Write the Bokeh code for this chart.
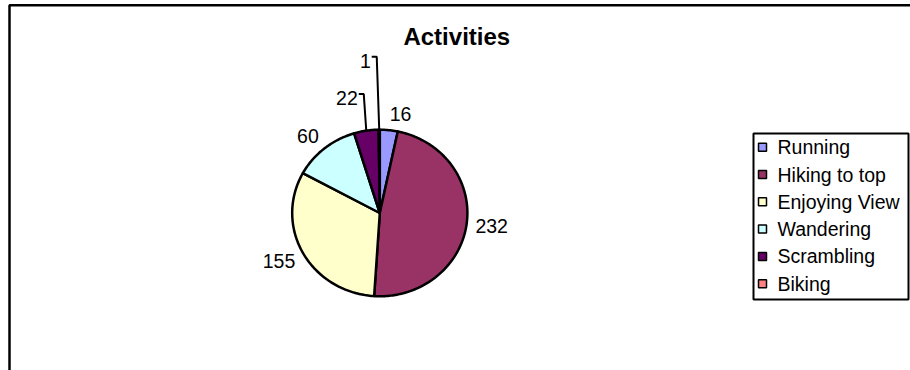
import numpy as np
from bokeh.plotting import figure
from bokeh.models import Range1d, BoxAnnotation, ColumnDataSource
from bokeh.core.properties import value
from bokeh.embed import file_html
from bokeh.resources import INLINE

# ---- data -------------------------------------------------------------
title = "Activities"
categories = ["Running", "Hiking to top", "Enjoying View", "Wandering", "Scrambling", "Biking"]
counts = [16, 232, 155, 60, 22, 1]
colors = ["#9999FF", "#993366", "#FFFFCC", "#CCFFFF", "#660066", "#FF8080"]

# ---- layout (pixel space: x to the right, y downwards) ----------------
W, H = 910, 370
FONT = "Liberation Sans"
CX, CY, RX, RY = 379.3, 212.5, 87.6, 83.3      # pie centre and radii
LABEL_FS = 19.5
LABEL_GAP = 8.9
# labels lifted away from thin slices, joined back by a leader line
leader_rise = {"Scrambling": 36.6, "Biking": 73.0}

p = figure(width=W, height=H, x_range=Range1d(0, W), y_range=Range1d(H, 0),
           output_backend="svg", toolbar_location=None, min_border=0,
           x_axis_location=None, y_axis_location=None)
p.grid.visible = False
p.outline_line_color = None
p.background_fill_color = "white"
p.border_fill_color = "white"

# chart area border
p.add_layout(BoxAnnotation(left=9, right=5000, top=4.7, bottom=5000, level="underlay",
                           fill_color=None, line_color="black", line_alpha=1.0,
                           line_width=2.5))

# ---- pie slices, clockwise from 12 o'clock ----------------------------
vals = np.array(counts, dtype=float)
edges = np.concatenate([[0.0], np.cumsum(vals)]) / vals.sum() * 2 * np.pi
xs, ys = [], []
for a0, a1 in zip(edges[:-1], edges[1:]):
    n = max(2, int(np.ceil(np.degrees(a1 - a0))))
    t = np.linspace(a0, a1, n + 1)
    xs.append([CX] + (CX + RX * np.sin(t)).tolist())
    ys.append([CY] + (CY - RY * np.cos(t)).tolist())
src = ColumnDataSource(dict(xs=xs, ys=ys, color=colors, name=categories, count=counts))
p.patches("xs", "ys", source=src, fill_color="color", line_color="black",
          line_width=2.5, line_join="round")

# ---- value labels -----------------------------------------------------
mid = (edges[:-1] + edges[1:]) / 2
lab_x, lab_y, lab_t, lab_align = [], [], [], []
lead_xs, lead_ys = [], []
for cat, cnt, a in zip(categories, counts, mid):
    s, c = np.sin(a), np.cos(a)
    ex, ey = CX + RX * s, CY - RY * c
    txt = str(cnt)
    if cat in leader_rise:
        top = ey - leader_rise[cat]
        lead_xs.append([ex, ex - 2.5, ex - 7.5])
        lead_ys.append([ey, top, top])
        lab_x.append(ex - 8.5)
        lab_y.append(top + 4)
        lab_align.append("right")
    else:
        # label box sits just outside the rim, on the side of the slice
        w = len(txt) * 0.556 * LABEL_FS
        h = 0.75 * LABEL_FS
        lab_x.append(ex + s * LABEL_GAP + np.sign(s) * w / 2)
        lab_y.append(ey - c * LABEL_GAP - c * h / 2)
        lab_align.append("center")
    lab_t.append(txt)

p.multi_line(lead_xs, lead_ys, line_color="black", line_width=2)
p.text(x=lab_x, y=lab_y, text=lab_t, text_align=lab_align, text_baseline="middle",
       text_font=value(FONT), text_font_size=f"{LABEL_FS}px", text_color="black")

# ---- title ------------------------------------------------------------
p.text(x=[456.3], y=[35.6], text=[title], text_align="center", text_baseline="alphabetic",
       text_font=value(FONT), text_font_size="24px", text_font_style="bold", text_color="black")

# ---- legend -----------------------------------------------------------
LEG_L, LEG_R, LEG_T, LEG_B = 753, 908, 133, 299
ROW0, ROW_H = 146.7, 27.3
p.add_layout(BoxAnnotation(left=LEG_L, right=LEG_R, top=LEG_T, bottom=LEG_B, level="underlay",
                           fill_color="white", fill_alpha=1.0,
                           line_color="black", line_alpha=1.0, line_width=2))
rows = [ROW0 + i * ROW_H for i in range(len(categories))]
p.scatter(x=[762] * len(categories), y=rows, marker="square", size=8,
          fill_color=colors, line_color="black", line_width=1.5)
p.text(x=[777] * len(categories), y=rows, text=categories, text_align="left",
       text_baseline="middle", text_font=value(FONT), text_font_size="19.5px",
       text_color="black")

open("out.html", "w").write(file_html(p, INLINE))
